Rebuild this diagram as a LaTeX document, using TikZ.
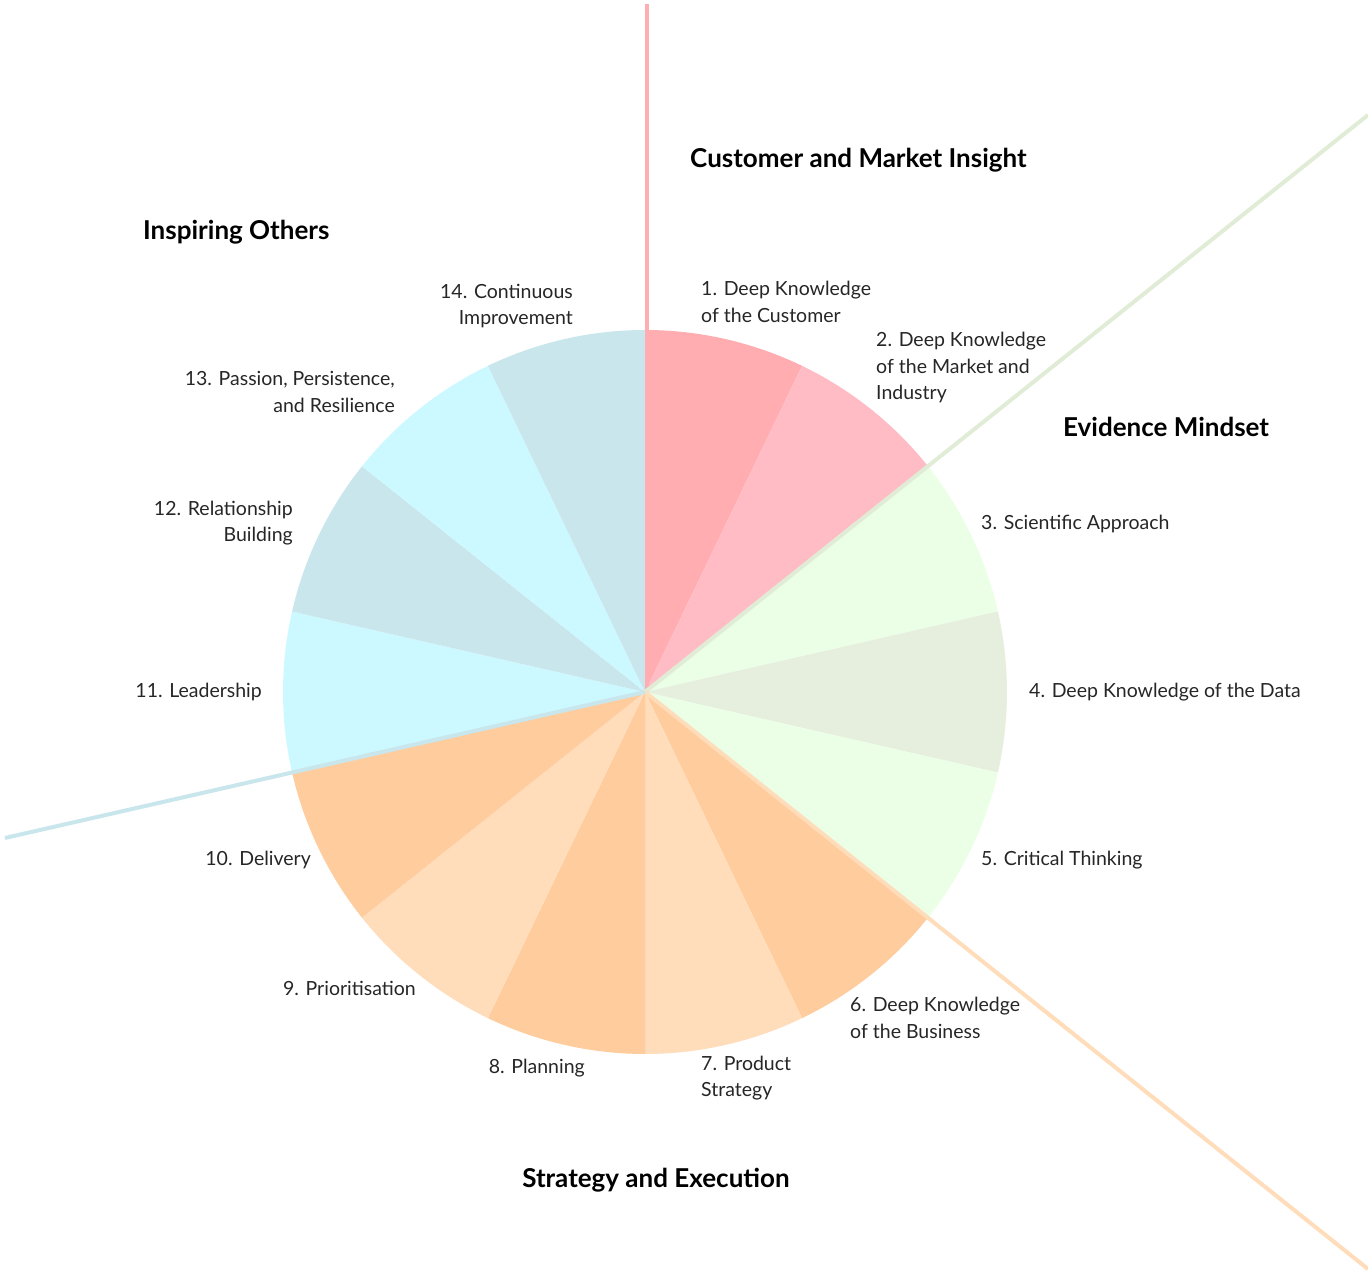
\documentclass[tikz,border=0pt]{standalone}
\usepackage{fontspec}
\setmainfont{Lato}
\usepackage{tikz}
\usetikzlibrary{positioning,calc}

\definecolor{rose}{HTML}{FFADB0}
\definecolor{roselight}{HTML}{FFBCC5}
\definecolor{mint}{HTML}{EAFFE5}
\definecolor{sage}{HTML}{E6EFDD}
\definecolor{peach}{HTML}{FFCC9E}
\definecolor{peachlight}{HTML}{FFDCBA}
\definecolor{sky}{HTML}{CCF8FF}
\definecolor{skygrey}{HTML}{C9E6EC}
\definecolor{sagedark}{HTML}{E1ECD6}

\begin{document}
\begin{tikzpicture}[
  x=1pt, y=1pt,
  label/.style={inner sep=0pt, font=\fontsize{19.5}{26.5}\selectfont, text=black!85},
  labelL/.style={label, anchor=west, align=left},
  labelR/.style={label, anchor=east, align=right},
  heading/.style={inner sep=0pt, font=\fontsize{26}{30}\selectfont\bfseries},
  divider/.style={line width=4pt},
]
\useasboundingbox (0,0) rectangle (1368,1272);

\def\R{362}
\coordinate (c) at (645,580);

% Fourteen equal slices, clockwise from the top
\foreach \i/\col in {1/rose,2/roselight,3/mint,4/sage,5/mint,6/peach,7/peachlight,
                     8/peach,9/peachlight,10/peach,11/sky,12/skygrey,13/sky,14/skygrey}{
  \pgfmathsetmacro{\a}{90-(\i-1)*360/14}
  \pgfmathsetmacro{\b}{90-\i*360/14}
  \fill[\col] (c) -- +(\a:\R) arc[start angle=\a, end angle=\b, radius=\R] -- cycle;
}

% Group dividers
\coordinate (topEnd) at (647,1268);
\coordinate (evidenceEnd) at (1368,1157);
\coordinate (strategyEnd) at (1368,3);
\coordinate (inspireEnd) at (5,434);
\draw[divider, rose] ([xshift=2pt]c) -- (topEnd);
\draw[divider, sagedark] (c) -- (evidenceEnd);
\draw[divider, peachlight] (c) -- (strategyEnd);
\draw[divider, skygrey] (c) -- (inspireEnd);

% Group headings
\node[heading, anchor=west] (customer) at (690,1112) {Customer and Market Insight};
\node[heading, anchor=west] (evidence) at (1063,845) {Evidence Mindset};
\node[heading] (strategy) at (656,92) {Strategy and Execution};
\node[heading, anchor=west] (inspiring) at (143,1040) {Inspiring Others};

% Slice labels
\node[labelL] (s1) at (701,970) {1. Deep Knowledge\\of the Customer};
\node[labelL] (s2) at (876,904) {2. Deep Knowledge\\of the Market and\\Industry};
\node[labelL] (s3) at (981,748) {3. Scientific Approach};
\node[labelL] (s4) at (1029,580) {4. Deep Knowledge of the Data};
\node[labelL] (s5) at (981,412) {5. Critical Thinking};
\node[labelL] (s6) at (850,254) {6. Deep Knowledge\\of the Business};
\node[labelL] (s7) at (701,194) {7. Product\\Strategy};
\node[labelR] (s8) at (585,204) {8. Planning};
\node[labelR] (s9) at (416,284) {9. Prioritisation};
\node[labelR] (s10) at (311,412) {10. Delivery};
\node[labelR] (s11) at (262,580) {11. Leadership};
\node[labelR] (s12) at (293,749) {12. Relationship\\Building};
\node[labelR] (s13) at (395,880) {13. Passion, Persistence,\\and Resilience};
\node[labelR] (s14) at (573,966) {14. Continuous\\Improvement};

\end{tikzpicture}
\end{document}
